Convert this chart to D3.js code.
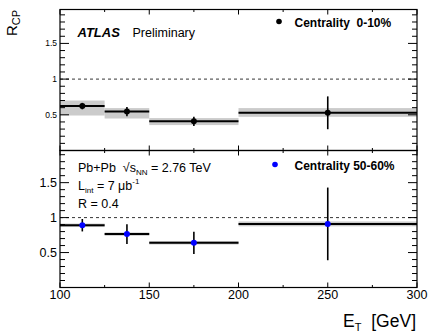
<!DOCTYPE html>
<html>
<head>
<meta charset="utf-8">
<script src="https://cdn.jsdelivr.net/npm/d3@7"></script>
<style>
  body { margin: 0; background: #fff; }
  svg { font-family: "Liberation Sans", Arial, sans-serif; }
</style>
</head>
<body>
<div id="chart"></div>
<script>
// bins in E_T [GeV]
var binLo = [100, 125, 150, 200];
var binHi = [125, 150, 200, 300];
var binMid = [112.5, 137.5, 175, 250];

// centrality 0-10%
var centVal = [0.622, 0.546, 0.409, 0.528];
var centStat = [0.045, 0.065, 0.065, 0.23];
var centSysLo = [0.49, 0.448, 0.356, 0.472];
var centSysHi = [0.70, 0.594, 0.454, 0.594];

// centrality 50-60%
var periVal = [0.891, 0.764, 0.639, 0.91];
var periStat = [0.089, 0.14, 0.16, 0.52];
var periSysLo = [0.865, 0.74, 0.615, 0.875];
var periSysHi = [0.915, 0.788, 0.663, 0.945];

var xTicks = [100, 150, 200, 250, 300];
var yTicks = [0.5, 1, 1.5];

var width = 432, height = 334;
var svg = d3.select("#chart").append("svg")
	.attr("width", width)
	.attr("height", height);

var x = d3.scaleLinear().domain([100, 300]).range([60, 417]);

var panels = [
	{ y: d3.scaleLinear().domain([0, 1.975]).range([150.5, 9.5]), labSize: 8.5,
	  val: centVal, stat: centStat, lo: centSysLo, hi: centSysHi, color: "#000",
	  legend: "Centrality  0-10%", legY: 26.5 },
	{ y: d3.scaleLinear().domain([0, 1.96]).range([287.5, 150.5]), labSize: 12.5,
	  val: periVal, stat: periStat, lo: periSysLo, hi: periSysHi, color: "#0000ff",
	  legend: "Centrality 50-60%", legY: 169.5 }
];

var yMinor = d3.range(1, 20).map(function(i) { return i / 10; });
var xMinor = d3.range(100, 301, 25);

panels.forEach(function(p, k) {
	var y = p.y;
	var g = svg.append("g");
	var top = y.range()[1], bot = y.range()[0];

	// systematic bands
	g.selectAll("rect.sys").data(p.val).enter().append("rect")
		.attr("x", function(d, i) { return x(binLo[i]); })
		.attr("width", function(d, i) { return x(binHi[i]) - x(binLo[i]); })
		.attr("y", function(d, i) { return y(p.hi[i]); })
		.attr("height", function(d, i) { return y(p.lo[i]) - y(p.hi[i]); })
		.attr("fill", "#cbcbcb");

	// dashed line at 1
	g.append("line")
		.attr("x1", x(100)).attr("x2", x(300))
		.attr("y1", y(1)).attr("y2", y(1))
		.attr("stroke", "#000").attr("stroke-width", 0.8)
		.attr("stroke-dasharray", "3,3");

	// bin width lines
	g.selectAll("line.xerr").data(p.val).enter().append("line")
		.attr("x1", function(d, i) { return x(binLo[i]); })
		.attr("x2", function(d, i) { return x(binHi[i]); })
		.attr("y1", function(d) { return y(d); })
		.attr("y2", function(d) { return y(d); })
		.attr("stroke", "#000").attr("stroke-width", 2);

	// stat errors
	g.selectAll("line.yerr").data(p.val).enter().append("line")
		.attr("x1", function(d, i) { return x(binMid[i]); })
		.attr("x2", function(d, i) { return x(binMid[i]); })
		.attr("y1", function(d, i) { return y(d + p.stat[i]); })
		.attr("y2", function(d, i) { return y(d - p.stat[i]); })
		.attr("stroke", "#000").attr("stroke-width", 1.6);

	g.selectAll("circle").data(p.val).enter().append("circle")
		.attr("cx", function(d, i) { return x(binMid[i]); })
		.attr("cy", function(d) { return y(d); })
		.attr("r", 3)
		.attr("fill", p.color);

	// frame
	g.append("rect")
		.attr("x", x(100)).attr("y", top)
		.attr("width", x(300) - x(100)).attr("height", bot - top)
		.attr("fill", "none").attr("stroke", "#000").attr("stroke-width", 1.2);

	// y ticks both sides
	yMinor.forEach(function(v) {
		var major = yTicks.indexOf(Math.round(v * 10) / 10) >= 0;
		var len = major ? 9 : 5;
		g.append("line").attr("x1", x(100)).attr("x2", x(100) + len)
			.attr("y1", y(v)).attr("y2", y(v)).attr("stroke", "#000");
		g.append("line").attr("x1", x(300)).attr("x2", x(300) - len)
			.attr("y1", y(v)).attr("y2", y(v)).attr("stroke", "#000");
	});
	// x ticks top and bottom
	xMinor.forEach(function(v) {
		var len = xTicks.indexOf(v) >= 0 ? 5 : 2.5;
		g.append("line").attr("x1", x(v)).attr("x2", x(v))
			.attr("y1", bot).attr("y2", bot - len).attr("stroke", "#000");
		g.append("line").attr("x1", x(v)).attr("x2", x(v))
			.attr("y1", top).attr("y2", top + len).attr("stroke", "#000");
	});

	g.selectAll("text.ylab").data(yTicks).enter().append("text")
		.attr("x", 57).attr("y", function(d) { return y(d); })
		.attr("dy", "0.35em")
		.attr("text-anchor", "end")
		.attr("font-size", p.labSize)
		.text(function(d) { return d; });

	// legend
	g.append("circle").attr("cx", k == 0 ? 279 : 275).attr("cy", p.legY - 5)
		.attr("r", 2.8).attr("fill", p.color);
	g.append("text").attr("x", 294.5).attr("y", p.legY)
		.attr("font-size", 12).attr("font-weight", "bold")
		.attr("xml:space", "preserve")
		.text(p.legend);
});

// x tick labels
svg.selectAll("text.xlab").data(xTicks).enter().append("text")
	.attr("x", function(d) { return x(d); })
	.attr("y", 298.5)
	.attr("text-anchor", "middle")
	.attr("font-size", 12.5)
	.text(function(d) { return d; });

// axis titles
var xt = svg.append("text").attr("x", 416).attr("y", 326.5)
	.attr("text-anchor", "end").attr("font-size", 17.5)
	.attr("xml:space", "preserve");
xt.append("tspan").text("E");
xt.append("tspan").attr("font-size", 11).attr("dy", 4).text("T");
xt.append("tspan").attr("dy", -4).text("  [GeV]");

var yt = svg.append("text")
	.attr("transform", "translate(16.5,36) rotate(-90)")
	.attr("text-anchor", "start").attr("font-size", 15);
yt.append("tspan").text("R");
yt.append("tspan").attr("font-size", 11).attr("dy", 3).text("CP");

// ATLAS label
svg.append("text").attr("x", 77.5).attr("y", 36.5)
	.attr("font-size", 13).attr("font-weight", "bold").attr("font-style", "italic")
	.text("ATLAS");
svg.append("text").attr("x", 132.5).attr("y", 36.5)
	.attr("font-size", 12.5).text("Preliminary");

// info text in lower panel
var t1 = svg.append("text").attr("x", 78).attr("y", 171.5).attr("font-size", 12.5)
	.attr("xml:space", "preserve");
t1.append("tspan").text("Pb+Pb  √");
t1.append("tspan").text("s");
t1.append("tspan").attr("font-size", 8).attr("dy", 3).text("NN");
t1.append("tspan").attr("dy", -3).text(" = 2.76 TeV");

var t2 = svg.append("text").attr("x", 78).attr("y", 190).attr("font-size", 12.5);
t2.append("tspan").text("L");
t2.append("tspan").attr("font-size", 8).attr("dy", 3).text("int");
t2.append("tspan").attr("dy", -3).text(" = 7 μb");
t2.append("tspan").attr("font-size", 8).attr("dy", -6).text("-1");

svg.append("text").attr("x", 78).attr("y", 208).attr("font-size", 12.5)
	.text("R = 0.4");
</script>
</body>
</html>
